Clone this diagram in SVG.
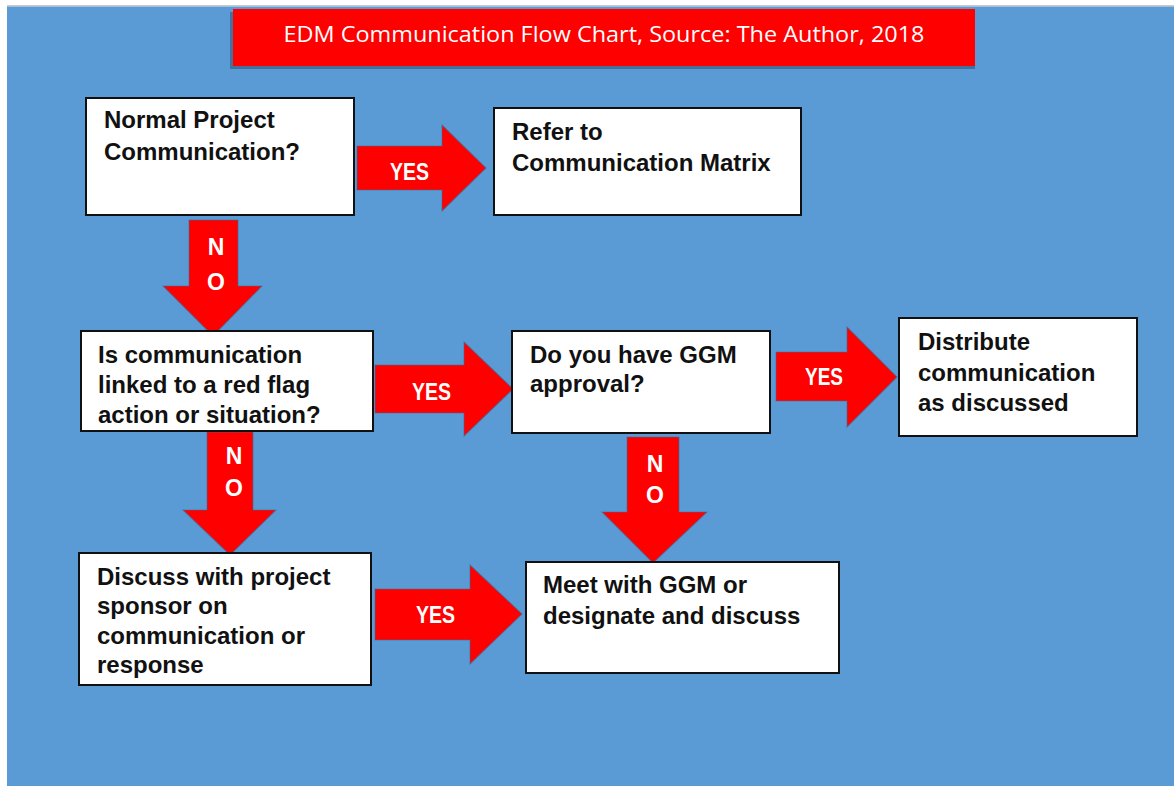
<svg xmlns="http://www.w3.org/2000/svg" width="1174" height="786" viewBox="0 0 1174 786">
  <style>
    .box { fill: #ffffff; stroke: #111111; stroke-width: 2; }
    .txt { font-family: "Liberation Sans", Arial, sans-serif; font-weight: bold; font-size: 24px; fill: #111111; }
    .arrow { fill: #ff0000; stroke: #3d6a99; stroke-width: 1.2; stroke-opacity: 0.55; stroke-linejoin: miter; }
    .lbl { font-family: "Liberation Sans", Arial, sans-serif; font-weight: bold; font-size: 23px; fill: #ffffff; text-anchor: middle; }
    .yes { font-family: "Liberation Sans", Arial, sans-serif; font-weight: bold; font-size: 23px; fill: #ffffff; }
  </style>

  <!-- page and canvas -->
  <rect x="0" y="0" width="1174" height="786" fill="#ffffff"/>
  <rect x="7" y="5" width="1167" height="1.5" fill="#c9c9c9"/>
  <rect x="7" y="6.5" width="1167" height="779.5" fill="#5b9bd5"/>

  <!-- title banner -->
  <g id="title">
    <rect x="230" y="12" width="745" height="57" fill="#41719c"/>
    <rect x="233" y="9" width="742" height="57" fill="#ff0000"/>
    <text x="604" y="42" text-anchor="middle" font-family="'Open Sans', 'Liberation Sans', sans-serif" font-size="21" fill="#ffffff" textLength="641" lengthAdjust="spacingAndGlyphs">EDM Communication Flow Chart, Source: The Author, 2018</text>
  </g>

  <!-- connectors: block arrows with their labels -->
  <g id="connectors">
    <!-- Normal Project Communication -> Refer to Communication Matrix -->
    <polygon class="arrow" points="357,146 442,146 442,125 486,168 442,211 442,190 357,190"/>
    <text class="yes" x="390" y="180" textLength="39" lengthAdjust="spacingAndGlyphs">YES</text>

    <!-- Normal Project Communication -> Is communication linked -->
    <polygon class="arrow" points="189,220 238,220 238,286 262,286 213,336 163,286 189,286"/>
    <text class="lbl" x="216" y="255">N</text>
    <text class="lbl" x="216" y="290">O</text>

    <!-- Is communication linked -> GGM approval -->
    <polygon class="arrow" points="375,365 464,365 464,342 513,389 464,436 464,413 375,413"/>
    <text class="yes" x="412" y="400" textLength="39" lengthAdjust="spacingAndGlyphs">YES</text>

    <!-- GGM approval -> Distribute communication -->
    <polygon class="arrow" points="776,352 847,352 847,327 897,377 847,427 847,401 776,401"/>
    <text class="yes" x="805" y="385" textLength="38" lengthAdjust="spacingAndGlyphs">YES</text>

    <!-- Is communication linked -> Discuss with project sponsor -->
    <polygon class="arrow" points="207,432 253,432 253,510 276,510 230,555 183,510 207,510"/>
    <text class="lbl" x="234" y="464">N</text>
    <text class="lbl" x="234" y="496">O</text>

    <!-- GGM approval -> Meet with GGM -->
    <polygon class="arrow" points="627,437 679,437 679,512 707,512 653,563 602,512 627,512"/>
    <text class="lbl" x="655" y="472">N</text>
    <text class="lbl" x="655" y="503">O</text>

    <!-- Discuss with project sponsor -> Meet with GGM -->
    <polygon class="arrow" points="375,589 470,589 470,565 522,614 470,664 470,640 375,640"/>
    <text class="yes" x="416" y="623" textLength="39" lengthAdjust="spacingAndGlyphs">YES</text>
  </g>

  <!-- decision and action nodes -->
  <g id="normal-project">
    <rect class="box" x="86" y="98" width="268" height="117"/>
    <text class="txt" x="104" y="128">Normal Project</text>
    <text class="txt" x="104" y="160">Communication?</text>
  </g>

  <g id="refer-matrix">
    <rect class="box" x="494" y="108" width="307" height="107"/>
    <text class="txt" x="512" y="140">Refer to</text>
    <text class="txt" x="512" y="171">Communication Matrix</text>
  </g>

  <g id="red-flag">
    <rect class="box" x="81" y="331" width="292" height="100"/>
    <text class="txt" x="98" y="363">Is communication</text>
    <text class="txt" x="98" y="393">linked to a red flag</text>
    <text class="txt" x="98" y="423">action or situation?</text>
  </g>

  <g id="ggm-approval">
    <rect class="box" x="512" y="331" width="258" height="102"/>
    <text class="txt" x="530" y="363">Do you have GGM</text>
    <text class="txt" x="530" y="392">approval?</text>
  </g>

  <g id="distribute">
    <rect class="box" x="899" y="318" width="238" height="118"/>
    <text class="txt" x="918" y="350">Distribute</text>
    <text class="txt" x="918" y="381">communication</text>
    <text class="txt" x="918" y="411">as discussed</text>
  </g>

  <g id="discuss-sponsor">
    <rect class="box" x="79" y="553" width="292" height="132"/>
    <text class="txt" x="97" y="585">Discuss with project</text>
    <text class="txt" x="97" y="614">sponsor on</text>
    <text class="txt" x="97" y="644">communication or</text>
    <text class="txt" x="97" y="673">response</text>
  </g>

  <g id="meet-ggm">
    <rect class="box" x="526" y="562" width="313" height="111"/>
    <text class="txt" x="543" y="593">Meet with GGM or</text>
    <text class="txt" x="543" y="624">designate and discuss</text>
  </g>
</svg>
